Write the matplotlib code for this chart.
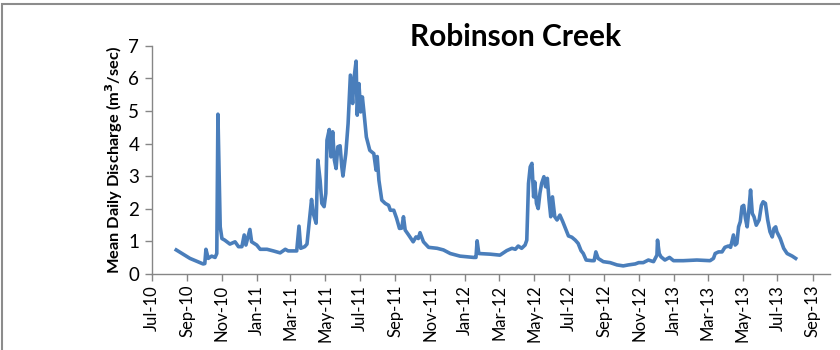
import pandas as pd
import matplotlib
matplotlib.use('Agg')
import matplotlib.pyplot as plt
import matplotlib.dates as mdates
from matplotlib.patches import Rectangle

# ─── Data (date, mean daily discharge m3/s) ───
dates = [
    '2010-08-13', '2010-09-06', '2010-09-29', '2010-10-02', '2010-10-04', '2010-10-08',
    '2010-10-14', '2010-10-20', '2010-10-23', '2010-10-25', '2010-10-29', '2010-11-01',
    '2010-11-06', '2010-11-15', '2010-11-24', '2010-11-30', '2010-12-06', '2010-12-10',
    '2010-12-13', '2010-12-20', '2010-12-23', '2011-01-01', '2011-01-07', '2011-01-19',
    '2011-01-30', '2011-02-11', '2011-02-20', '2011-02-25', '2011-03-12', '2011-03-16',
    '2011-03-19', '2011-03-26', '2011-03-30', '2011-04-04', '2011-04-07', '2011-04-10',
    '2011-04-15', '2011-04-18', '2011-04-22', '2011-04-25', '2011-04-29', '2011-05-02',
    '2011-05-04', '2011-05-08', '2011-05-11', '2011-05-14', '2011-05-17', '2011-05-20',
    '2011-05-23', '2011-05-27', '2011-05-30', '2011-06-01', '2011-06-06', '2011-06-10',
    '2011-06-14', '2011-06-18', '2011-06-20', '2011-06-24', '2011-06-26', '2011-06-29',
    '2011-07-02', '2011-07-05', '2011-07-08', '2011-07-12', '2011-07-18', '2011-07-25',
    '2011-07-29', '2011-07-31', '2011-08-03', '2011-08-08', '2011-08-14', '2011-08-20',
    '2011-08-23', '2011-08-29', '2011-09-03', '2011-09-08', '2011-09-12', '2011-09-15',
    '2011-09-18', '2011-09-24', '2011-10-02', '2011-10-07', '2011-10-11', '2011-10-14',
    '2011-10-20', '2011-10-29', '2011-11-13', '2011-11-24', '2011-12-06', '2011-12-23',
    '2012-01-16', '2012-01-20', '2012-01-22', '2012-01-25', '2012-02-14', '2012-03-02',
    '2012-03-14', '2012-03-23', '2012-03-29', '2012-04-03', '2012-04-09', '2012-04-15',
    '2012-04-18', '2012-04-21', '2012-04-24', '2012-04-27', '2012-04-30', '2012-05-02',
    '2012-05-05', '2012-05-08', '2012-05-11', '2012-05-14', '2012-05-18', '2012-05-21',
    '2012-05-24', '2012-05-27', '2012-05-30', '2012-06-02', '2012-06-06', '2012-06-10',
    '2012-06-15', '2012-06-20', '2012-06-26', '2012-06-30', '2012-07-06', '2012-07-12',
    '2012-07-17', '2012-07-22', '2012-07-26', '2012-07-31', '2012-08-10', '2012-08-14',
    '2012-08-17', '2012-08-21', '2012-08-30', '2012-09-11', '2012-09-23', '2012-10-04',
    '2012-10-13', '2012-10-25', '2012-10-31', '2012-11-08', '2012-11-17', '2012-11-26',
    '2012-12-02', '2012-12-03', '2012-12-06', '2012-12-09', '2012-12-16', '2012-12-24',
    '2012-12-31', '2013-01-17', '2013-02-10', '2013-03-05', '2013-03-11', '2013-03-14',
    '2013-03-20', '2013-03-26', '2013-03-31', '2013-04-06', '2013-04-10', '2013-04-15',
    '2013-04-18', '2013-04-21', '2013-04-24', '2013-04-27', '2013-04-30', '2013-05-03',
    '2013-05-06', '2013-05-09', '2013-05-12', '2013-05-15', '2013-05-18', '2013-05-21',
    '2013-05-25', '2013-05-30', '2013-06-03', '2013-06-06', '2013-06-10', '2013-06-14',
    '2013-06-18', '2013-06-22', '2013-06-25', '2013-06-28', '2013-06-30', '2013-07-06',
    '2013-07-12', '2013-07-18', '2013-07-27', '2013-08-02',
]
discharge = [
    0.73, 0.47, 0.30, 0.31, 0.75, 0.47,
    0.54, 0.50, 0.62, 4.90, 1.44, 1.08,
    1.03, 0.91, 0.98, 0.83, 0.83, 1.19,
    0.88, 1.36, 0.98, 0.88, 0.75, 0.75,
    0.70, 0.64, 0.75, 0.70, 0.70, 1.46,
    0.78, 0.83, 0.91, 1.75, 2.28, 1.85,
    1.55, 3.49, 2.87, 2.16, 2.06, 2.47,
    4.10, 4.43, 3.59, 4.36, 3.49, 3.23,
    3.90, 3.93, 3.28, 3.00, 3.69, 4.61,
    6.10, 5.23, 5.94, 6.53, 4.87, 5.84,
    4.97, 5.43, 4.92, 4.20, 3.79, 3.69,
    3.18, 3.60, 2.87, 2.26, 2.16, 2.10,
    1.95, 1.95, 1.70, 1.39, 1.40, 1.75,
    1.34, 1.19, 0.98, 1.13, 1.08, 1.26,
    0.98, 0.81, 0.78, 0.73, 0.62, 0.54,
    0.50, 0.50, 1.01, 0.62, 0.60, 0.57,
    0.71, 0.78, 0.75, 0.85, 0.78, 0.88,
    1.03, 2.77, 3.28, 3.39, 2.36, 2.82,
    2.16, 2.00, 2.47, 2.77, 2.98, 2.67,
    2.93, 2.26, 1.75, 2.36, 1.75, 1.65,
    1.80, 1.60, 1.34, 1.16, 1.12, 1.03,
    0.93, 0.71, 0.62, 0.42, 0.40, 0.40,
    0.67, 0.47, 0.37, 0.34, 0.27, 0.24,
    0.27, 0.30, 0.34, 0.34, 0.42, 0.37,
    0.57, 1.03, 0.62, 0.52, 0.42, 0.50,
    0.40, 0.40, 0.42, 0.40, 0.47, 0.62,
    0.67, 0.67, 0.81, 0.85, 0.81, 1.19,
    0.88, 0.93, 1.44, 1.60, 2.06, 2.10,
    1.70, 1.44, 1.95, 2.57, 1.85, 1.75,
    1.49, 1.65, 2.10, 2.21, 2.16, 1.65,
    1.29, 1.13, 1.39, 1.44, 1.29, 1.08,
    0.78, 0.62, 0.54, 0.47,
]
title = 'Robinson Creek'
y_label = 'Mean Daily Discharge (m$^3$/sec)'
x_start, x_end = '2010-07-01', '2013-10-01'

LINE_COLOR = '#4A7EBB'
AXIS_COLOR = '#868686'

plt.rcParams['font.family'] = ['Lato', 'DejaVu Sans']
plt.rcParams['mathtext.default'] = 'bf'

fig = plt.figure(figsize=(8.4, 3.5), dpi=100)
ax = fig.add_axes([0.1806, 0.218, 0.8074, 0.651])

# outer chart border (only top/left visible in the crop)
fig.patches.append(Rectangle((0.0024, -0.1), 1.2, 1.0886, transform=fig.transFigure,
                             fill=False, edgecolor='#8C8C8C', linewidth=1.5))

ax.plot(pd.to_datetime(dates), discharge, color=LINE_COLOR, linewidth=2.6,
        solid_joinstyle='round')

ax.set_xlim(pd.Timestamp(x_start), pd.Timestamp(x_end))
ax.set_ylim(0, 7)
ax.set_yticks(range(0, 8))
ax.xaxis.set_major_locator(mdates.MonthLocator(bymonth=[1, 3, 5, 7, 9, 11]))
ax.xaxis.set_major_formatter(mdates.DateFormatter('%b-%y'))

for s in ['top', 'right']:
    ax.spines[s].set_visible(False)
for s in ['left', 'bottom']:
    ax.spines[s].set_color(AXIS_COLOR)
    ax.spines[s].set_linewidth(1.0)
ax.tick_params(axis='both', color=AXIS_COLOR, length=5, width=1.0)
ax.tick_params(axis='x', labelsize=12, labelrotation=90, pad=3)
ax.tick_params(axis='y', labelsize=13.5, pad=4)

ax.set_ylabel(y_label, fontsize=11.8, fontweight='bold', labelpad=2)
fig.text(0.614, 0.895, title, fontsize=21.5, fontweight='bold', ha='center', va='center')

fig.savefig('out.png', dpi=100)
